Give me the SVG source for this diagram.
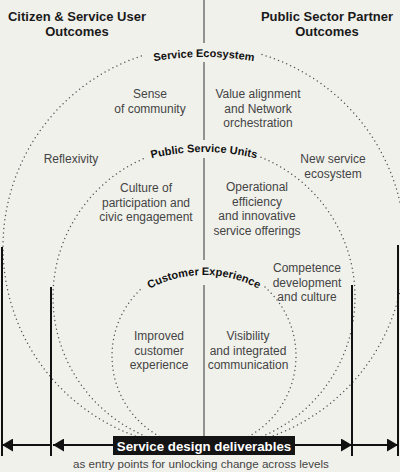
<svg xmlns="http://www.w3.org/2000/svg" width="400" height="472" viewBox="0 0 400 472">
<style>
.bg{fill:#f1f1ec}
.dot{fill:none;stroke:#555;stroke-width:1.5;stroke-linecap:round;stroke-dasharray:0 4.4}
.axis{stroke:#7a7a7a;stroke-width:1.6;fill:none}
.bar{stroke:#111;stroke-width:2;fill:none}
.arr{stroke:#111;stroke-width:2;fill:none;marker-end:url(#ah)}
.title{font-family:"Liberation Sans",Arial,sans-serif;font-weight:bold;font-size:13px;fill:#1a1a1a;text-anchor:middle}
.lab{font-family:"Liberation Sans",Arial,sans-serif;font-weight:bold;font-size:11px;fill:#111;text-anchor:middle}
.body{font-family:"Liberation Sans",Arial,sans-serif;font-size:12px;fill:#444;text-anchor:middle}
.box{fill:#141414}
.boxt{font-family:"Liberation Sans",Arial,sans-serif;font-weight:bold;font-size:13.3px;fill:#fff;text-anchor:middle}
.note{font-family:"Liberation Sans",Arial,sans-serif;font-size:11.6px;fill:#444;text-anchor:middle}
</style>
<defs>
<marker id="ah" markerUnits="userSpaceOnUse" markerWidth="12" markerHeight="13" refX="11" refY="6.5" orient="auto">
<path d="M0,0 L11,6.5 L0,13 Z" fill="#111"/>
</marker>
<path id="p-eco" d="M-96,357 A300,300 0 0 1 504,357"/>
<path id="p-psu" d="M-16,372 A220,220 0 0 1 424,372"/>
<path id="p-cx" d="M89,390 A115,115 0 0 1 319,390"/>
</defs>
<rect class="bg" x="0" y="0" width="400" height="472"/>

<g id="connectors">
<path class="dot" d="M262,54.6 A201,201 0 1 1 145,54.9"/>
<path class="dot" d="M261,157.2 A151,151 0 1 1 147,157.2"/>
<path class="dot" d="M265,287.1 A92,92 0 1 1 143,287.1"/>
<path class="axis" d="M204,0 V43 M204,62 V140 M204,158 V260 M204,285 V437"/>
<path class="bar" d="M2,247 V456 M51,287 V456 M352,285 V456 M398,245 V456"/>
<path class="arr" d="M113,445 H53"/>
<path class="arr" d="M51,445 H2"/>
<path class="arr" d="M295,445 H352"/>
<path class="arr" d="M352,445 H398"/>
</g>

<g id="title-left">
<text class="title" x="77" y="21">Citizen &amp; Service User</text>
<text class="title" x="77" y="36">Outcomes</text>
</g>
<g id="title-right">
<text class="title" x="327" y="21">Public Sector Partner</text>
<text class="title" x="327" y="36">Outcomes</text>
</g>

<g id="service-ecosystem">
<text class="lab"><textPath href="#p-eco" startOffset="50%">Service Ecosystem</textPath></text>
</g>
<g id="public-service-units">
<text class="lab"><textPath href="#p-psu" startOffset="50%">Public Service Units</textPath></text>
</g>
<g id="customer-experience">
<text class="lab"><textPath href="#p-cx" startOffset="50%">Customer Experience</textPath></text>
</g>

<g id="sense-of-community">
<text class="body" x="150" y="98">Sense</text>
<text class="body" x="150" y="112.5">of community</text>
</g>
<g id="value-alignment">
<text class="body" x="258" y="98">Value alignment</text>
<text class="body" x="258" y="112.5">and Network</text>
<text class="body" x="258" y="127">orchestration</text>
</g>
<g id="reflexivity">
<text class="body" x="71" y="163">Reflexivity</text>
</g>
<g id="new-service-ecosystem">
<text class="body" x="333" y="163">New service</text>
<text class="body" x="333" y="177.5">ecosystem</text>
</g>
<g id="culture-of-participation">
<text class="body" x="146" y="192">Culture of</text>
<text class="body" x="146" y="206.5">participation and</text>
<text class="body" x="146" y="221">civic engagement</text>
</g>
<g id="operational-efficiency">
<text class="body" x="257" y="191">Operational</text>
<text class="body" x="257" y="205.5">efficiency</text>
<text class="body" x="257" y="220">and innovative</text>
<text class="body" x="257" y="234.5">service offerings</text>
</g>
<g id="competence-development">
<text class="body" x="307" y="272">Competence</text>
<text class="body" x="307" y="286.5">development</text>
<text class="body" x="307" y="301">and culture</text>
</g>
<g id="improved-customer-experience">
<text class="body" x="159" y="340">Improved</text>
<text class="body" x="159" y="354.5">customer</text>
<text class="body" x="159" y="369">experience</text>
</g>
<g id="visibility">
<text class="body" x="248" y="340">Visibility</text>
<text class="body" x="248" y="354.5">and integrated</text>
<text class="body" x="248" y="369">communication</text>
</g>

<g id="service-design-deliverables">
<rect class="box" x="113" y="436" width="182" height="19"/>
<text class="boxt" x="204" y="450.5">Service design deliverables</text>
</g>
<g id="entry-points-note">
<text class="note" x="201" y="468">as entry points for unlocking change across levels</text>
</g>
</svg>
